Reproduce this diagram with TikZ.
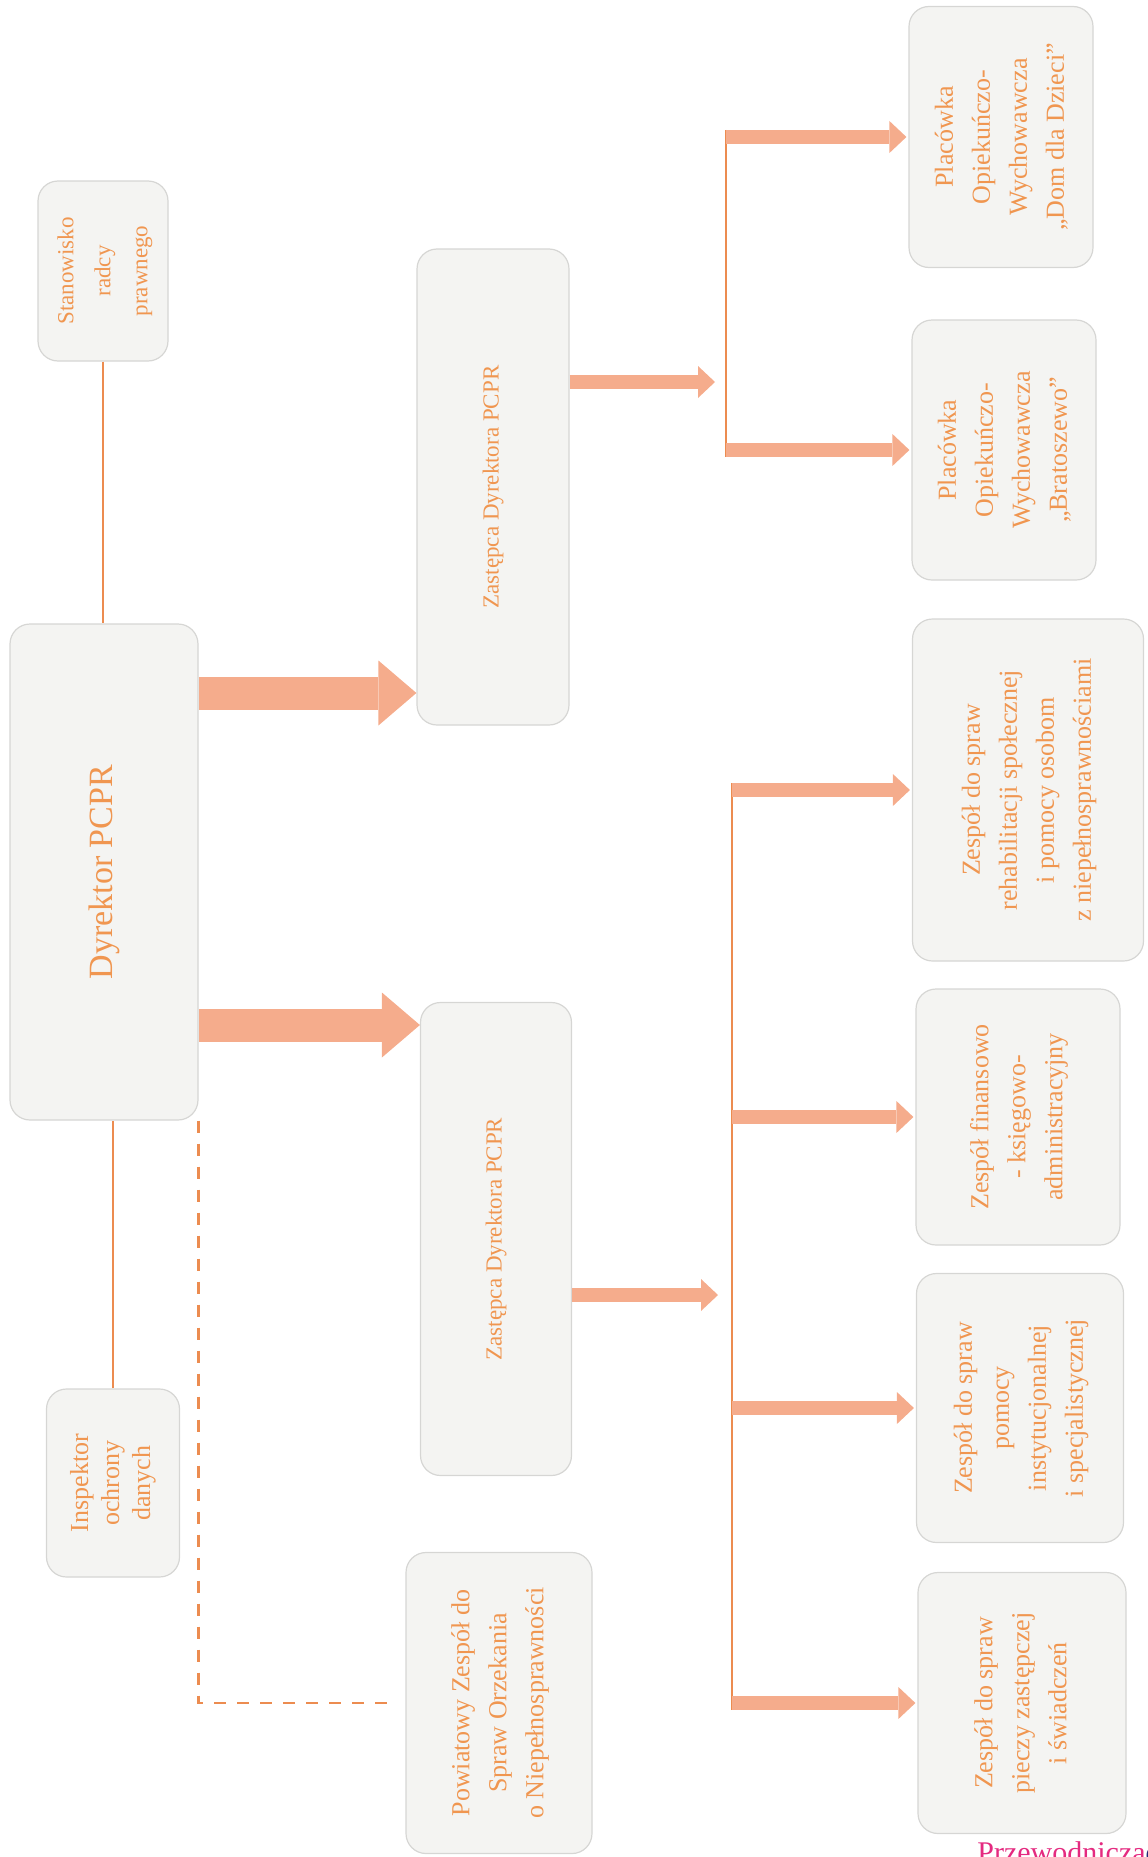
\documentclass[tikz,border=0pt]{standalone}
\usepackage{fontspec}
\setmainfont{Liberation Serif}
\usepackage{xcolor}
\usepackage{tikz}
\usetikzlibrary{arrows.meta}

\definecolor{pcprtext}{RGB}{240,150,80}
\definecolor{pcprline}{RGB}{236,140,80}
\definecolor{pcprarrow}{RGB}{245,172,140}
\definecolor{pcprfill}{RGB}{244,244,242}
\definecolor{pcprborder}{RGB}{214,214,212}
\definecolor{pcprpink}{RGB}{228,42,128}
\definecolor{pcprnavy}{RGB}{40,40,120}

\newcommand{\vlabel}[1]{\rotatebox{90}{\begin{tabular}{@{}c@{}}#1\end{tabular}}}

\tikzset{
	unit/.style={draw=pcprborder, fill=pcprfill, line width=0.6pt, rounded corners=10pt,
		inner sep=0pt, text=pcprtext, font=\fontsize{13}{18.5}\selectfont},
	boxsize/.style 2 args={minimum width=#1*0.5pt, minimum height=#2*0.5pt},
	bigarrow/.style={pcprarrow, line width=16.5pt, -{Triangle[length=19pt,width=32.5pt,line width=0pt]}},
	midarrow/.style={pcprarrow, line width=7pt, -{Triangle[length=8.5pt,width=16pt,line width=0pt]}},
	link/.style={pcprline, line width=0.8pt},
	spine/.style={pcprline, line width=1pt},
	dashlink/.style={pcprline, line width=1.3pt, dash pattern=on 6pt off 5.5pt}
}

\begin{document}
\begin{tikzpicture}[x=0.5pt, y=-0.5pt]
		\useasboundingbox (0,0) rectangle (1147,1857);
		\clip (0,0) rectangle (1147,1857);

		% levels of the arrows
		\coordinate (lvl1) at (0,693);
		\coordinate (lvl2) at (0,1025);
		\coordinate (sp1)  at (726,382);
		\coordinate (sp2)  at (732,1295);

		\node[unit, boxsize={130}{180}, font=\fontsize{11.5}{18.5}\selectfont] (stan) at (103,271)
			{\vlabel{Stanowisko\\radcy\\prawnego}};
		\node[unit, boxsize={188}{496}, font=\fontsize{17}{20}\selectfont] (dyr) at (104,872)
			{\vlabel{Dyrektor PCPR}};
		\node[unit, boxsize={133}{188}, font=\fontsize{13}{15.5}\selectfont] (insp) at (113,1483)
			{\vlabel{Inspektor\\ochrony\\danych}};
		\node[unit, boxsize={186}{301}] (pow) at (499,1703)
			{\vlabel{Powiatowy Zespół do\\Spraw Orzekania\\o Niepełnosprawności}};

		\node[unit, boxsize={152}{476}, font=\fontsize{11.5}{14}\selectfont] (zas1) at (493,487)
			{\vlabel{Zastępca Dyrektora PCPR}};
		\node[unit, boxsize={151}{473}, font=\fontsize{11.5}{14}\selectfont] (zas2) at (496,1239)
			{\vlabel{Zastępca Dyrektora PCPR}};

		\node[unit, boxsize={184}{261}] (dom) at (1001,137)
			{\vlabel{Placówka\\Opiekuńczo-\\Wychowawcza\\„Dom dla Dzieci”}};
		\node[unit, boxsize={184}{260}] (brat) at (1004,450)
			{\vlabel{Placówka\\Opiekuńczo-\\Wychowawcza\\„Bratoszewo”}};

		\node[unit, boxsize={231}{342}] (rehab) at (1028,790)
			{\vlabel{Zespół do spraw\\rehabilitacji społecznej\\i pomocy osobom\\z niepełnosprawnościami}};
		\node[unit, boxsize={204}{256}] (fin) at (1018,1117)
			{\vlabel{Zespół finansowo\\- księgowo-\\administracyjny}};
		\node[unit, boxsize={207}{269}] (pom) at (1020,1408)
			{\vlabel{Zespół do spraw\\pomocy\\instytucjonalnej\\i specjalistycznej}};
		\node[unit, boxsize={208}{261}] (piecz) at (1022,1703)
			{\vlabel{Zespół do spraw\\pieczy zastępczej\\i świadczeń}};

		\node[anchor=base west, inner sep=0pt, text=pcprpink, font=\fontsize{15}{18}\selectfont] (przew) at (977,1862)
			{Przewodnicza\textcolor{pcprnavy}{d}};

		% thin links
		\draw[link] (stan.south) -- (stan.south |- dyr.north);
		\draw[link] (insp.north) -- (insp.north |- dyr.south);
		\draw[dashlink, shorten >=5pt] (dyr.south east) |- (pow.west);

		% director to deputies
		\draw[bigarrow] (dyr.east |- lvl1) -- (zas1.west |- lvl1);
		\draw[bigarrow] (dyr.east |- lvl2) -- (zas2.west |- lvl2);

		% deputy 1
		\draw[midarrow, shorten >=5.5pt] (zas1.east |- sp1) -- (sp1);
		\draw[spine] ([yshift=3.5pt]dom.west -| sp1) -- ([yshift=-3.5pt]brat.west -| sp1);
		\foreach \unitname in {dom,brat}
			\draw[midarrow, shorten >=1pt] (\unitname.west -| sp1) -- (\unitname.west);

		% deputy 2
		\draw[midarrow, shorten >=7pt] (zas2.east |- sp2) -- (sp2);
		\draw[spine] ([yshift=3.5pt]rehab.west -| sp2) -- ([yshift=-3.5pt]piecz.west -| sp2);
		\foreach \unitname in {rehab,fin,pom,piecz}
			\draw[midarrow, shorten >=1pt] (\unitname.west -| sp2) -- (\unitname.west);
	\end{tikzpicture}
\end{document}
